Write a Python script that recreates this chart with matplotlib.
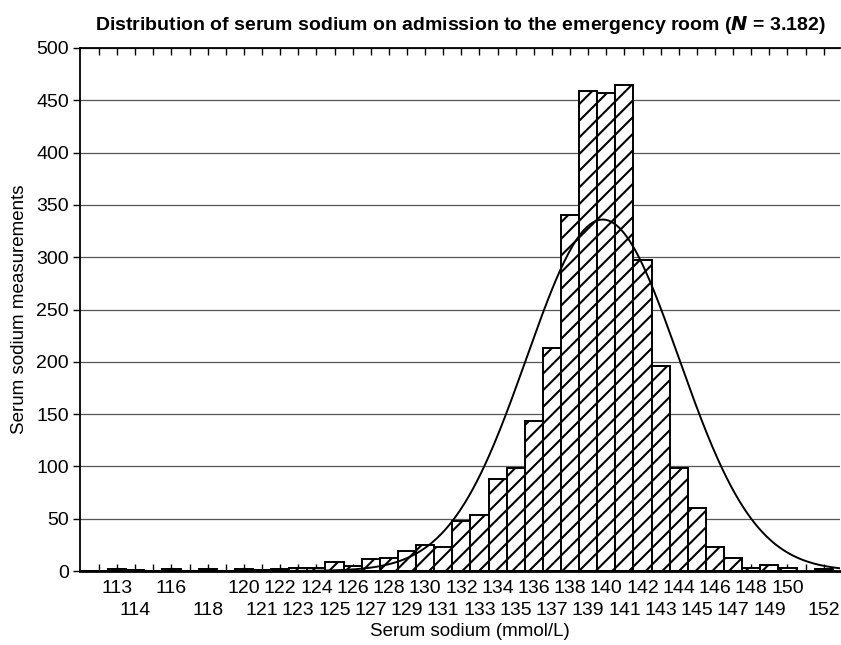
import numpy as np
import matplotlib
matplotlib.use("Agg")
import matplotlib.pyplot as plt
import matplotlib.transforms as mtransforms

plt.rcParams['font.family'] = ['Liberation Sans', 'DejaVu Sans']
plt.rcParams['hatch.linewidth'] = 1.5

# serum sodium values (mmol/L) that occur, and how many measurements each
sodium = [113, 114, 116, 118, 120, 121, 122, 123, 124, 125, 126, 127, 128, 129,
          130, 131, 132, 133, 134, 135, 136, 137, 138, 139, 140, 141, 142, 143,
          144, 145, 146, 147, 148, 149, 150, 152]
counts = [2, 1, 2, 2, 2, 1, 2, 3, 3, 9, 5, 11, 12, 19,
          25, 23, 48, 54, 88, 98, 143, 213, 340, 459, 457, 465, 297, 196,
          98, 60, 23, 12, 3, 6, 3, 2]

# fitted normal curve
n_total = 3182
mu = 139.8
sd = 4.2
peak = 336

fig = plt.figure(figsize=(8.41, 6.45), dpi=100)
ax = fig.add_axes([80/841, 74/645, 760/841, 523/645])

ax.set_axisbelow(True)
ax.yaxis.grid(True, color="#555555", linewidth=0.9)
ax.bar(sodium, counts, width=1.0, color="white", edgecolor="black",
       linewidth=1.4, hatch="//", zorder=2)

xs = np.linspace(110, 154, 600)
ys = peak * np.exp(-0.5 * ((xs - mu) / sd) ** 2)
ax.plot(xs, ys, color="black", linewidth=1.4, zorder=3)

ax.set_xlim(110.95, 152.9)
ax.set_ylim(0, 500)
ax.set_yticks(range(0, 501, 50))

# tick marks at every integer, labels on two alternating rows
ax.set_xticks(range(112, 153))
ax.set_xticklabels([])
trans = mtransforms.blended_transform_factory(ax.transData, ax.transAxes)
for i, v in enumerate(sodium):
    row_y = -0.033 if i % 2 == 0 else -0.075
    ax.text(v, row_y, str(v), transform=trans, ha="center", va="center",
            fontsize=14)
ax.tick_params(axis="x", direction="in", length=5, top=True, width=1)
ax.tick_params(axis="y", direction="out", length=5, labelsize=14, width=1,
               pad=3)

ax.spines["right"].set_visible(False)
ax.spines["bottom"].set_linewidth(2)
ax.spines["left"].set_linewidth(1.3)
ax.spines["top"].set_linewidth(1.3)

ax.set_title("Distribution of serum sodium on admission to the emergency room "
             "($\\bfit{N}$ = 3.182)", fontsize=14, fontweight="bold", pad=13)
ax.set_xlabel("Serum sodium (mmol/L)", fontsize=13.5)
ax.xaxis.set_label_coords(0.513, -0.1)
ax.set_ylabel("Serum sodium measurements", fontsize=13.5, labelpad=6)

fig.savefig("out.png", dpi=100)
